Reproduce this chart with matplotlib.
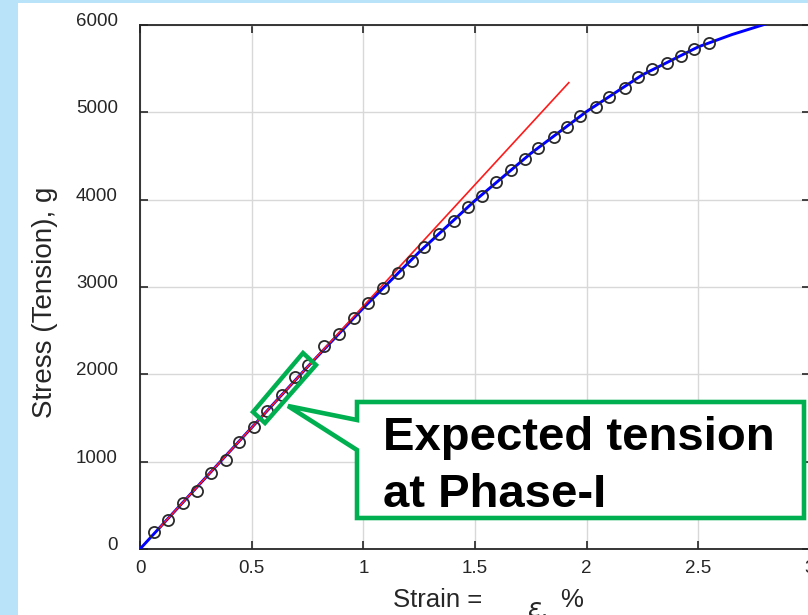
import numpy as np
import matplotlib
matplotlib.use("Agg")
import matplotlib.pyplot as plt
from matplotlib.patches import Polygon, Rectangle
from matplotlib.transforms import ScaledTranslation

plt.rcParams['font.family'] = ['Liberation Sans', 'DejaVu Sans']

# measured points (open circles)
strain = [0.063, 0.126, 0.193, 0.256, 0.319, 0.386, 0.444, 0.511, 0.570, 0.637,
          0.695, 0.754, 0.825, 0.893, 0.956, 1.019, 1.086, 1.153, 1.216, 1.270,
          1.341, 1.404, 1.467, 1.530, 1.593, 1.660, 1.723, 1.781, 1.853, 1.911,
          1.970, 2.041, 2.100, 2.171, 2.230, 2.293, 2.360, 2.423, 2.481, 2.548]
stress = [195, 332, 527, 664, 871, 1019, 1226, 1397, 1581, 1764,
          1970, 2108, 2325, 2463, 2646, 2818, 2990, 3162, 3299, 3459,
          3608, 3757, 3918, 4044, 4204, 4341, 4467, 4593, 4719, 4834,
          4960, 5063, 5178, 5281, 5407, 5498, 5567, 5647, 5727, 5796]

# fitted curve (blue)
fit_strain = [0, 0.25, 0.5, 0.75, 1.0, 1.25, 1.5, 1.75, 2.0, 2.25, 2.5, 2.65, 2.8]
fit_stress = [0, 695, 1390, 2085, 2760, 3400, 3990, 4530, 5010, 5430, 5750, 5890, 6010]

# linear phase (red)
lin_strain = [0.09, 1.92]
lin_stress = [250, 5340]

xticks = [0, 0.5, 1, 1.5, 2, 2.5, 3]
xticklabels = ['0', '0.5', '1', '1.5', '2', '2.5', '3']
yticks = [0, 1000, 2000, 3000, 4000, 5000, 6000]
yticklabels = ['0', '1000', '2000', '3000', '4000', '5000', '6000']

W, H = 808, 615
fig = plt.figure(figsize=(W / 100, H / 100), dpi=100)
fig.patch.set_facecolor('#b9e3f9')

def px(x, y):
    # pixel position (from top-left) -> figure fraction
    return (x / W, 1 - y / H)

# white slide panel
fig.add_artist(Rectangle((18 / W, 0), (W - 18) / W, (H - 3) / H,
                         transform=fig.transFigure, facecolor='white',
                         edgecolor='none', zorder=-1))

ax = fig.add_axes([140 / W, 1 - 549 / H, 670 / W, 524 / H])
ax.plot(fit_strain, fit_stress, color='#0000ff', lw=2.1, zorder=3)
ax.plot(lin_strain, lin_stress, color='#ff1a1a', lw=1.2, zorder=4)
ax.plot(strain, stress, 'o', mfc='none', mec='#2a2a2a', ms=8, mew=1.3, zorder=5)

ax.set_xlim(0, 3)
ax.set_ylim(0, 6000)
ax.set_xticks(xticks)
ax.set_xticklabels(xticklabels)
ax.set_yticks(yticks)
ax.set_yticklabels(yticklabels)
ax.grid(True, color='#d8d8d8', lw=1.0)
ax.set_axisbelow(True)
ax.tick_params(direction='in', length=6, width=1.2, top=True, right=True,
               labelsize=13.5, colors='#262626')
ax.tick_params(axis='x', pad=8)
ax.tick_params(axis='y', pad=16)
for s in ax.spines.values():
    s.set_color('#262626')
    s.set_linewidth(1.3)
for lbl in ax.get_yticklabels():
    lbl.set_transform(lbl.get_transform() + ScaledTranslation(0, 4 / 72, fig.dpi_scale_trans))

# axis labels
fig.text(*px(45, 302), 'Stress (Tension), g', rotation=90, ha='center', va='center',
         fontsize=20, color='#262626')
fig.text(*px(393, 607), 'Strain =', ha='left', va='baseline', fontsize=18.5, color='#262626')
fig.text(*px(527, 617), r'$\epsilon$,', ha='left', va='baseline', fontsize=18.5, color='#262626')
fig.text(*px(560, 607), '%', ha='left', va='baseline', fontsize=18.5, color='#262626')

green = '#00b050'
# highlight box around the phase-I points
box = [px(253, 412), px(303, 353), px(316, 365), px(265, 423)]
fig.add_artist(Polygon(box, closed=True, transform=fig.transFigure, facecolor='none',
                       edgecolor=green, lw=3.2, zorder=6))

# callout
callout = [px(357, 402), px(804, 402), px(804, 518), px(357, 518),
           px(357, 450), px(288, 406), px(357, 420)]
fig.add_artist(Polygon(callout, closed=True, transform=fig.transFigure, facecolor='white',
                       edgecolor=green, lw=3.3, joinstyle='miter', zorder=6))
fig.text(*px(383, 450), 'Expected tension', ha='left', va='baseline', fontsize=34,
         fontweight='bold', color='black', zorder=7)
fig.text(*px(383, 507), 'at Phase-I', ha='left', va='baseline', fontsize=34,
         fontweight='bold', color='black', zorder=7)

fig.savefig('out.png', dpi=100, facecolor=fig.get_facecolor())
